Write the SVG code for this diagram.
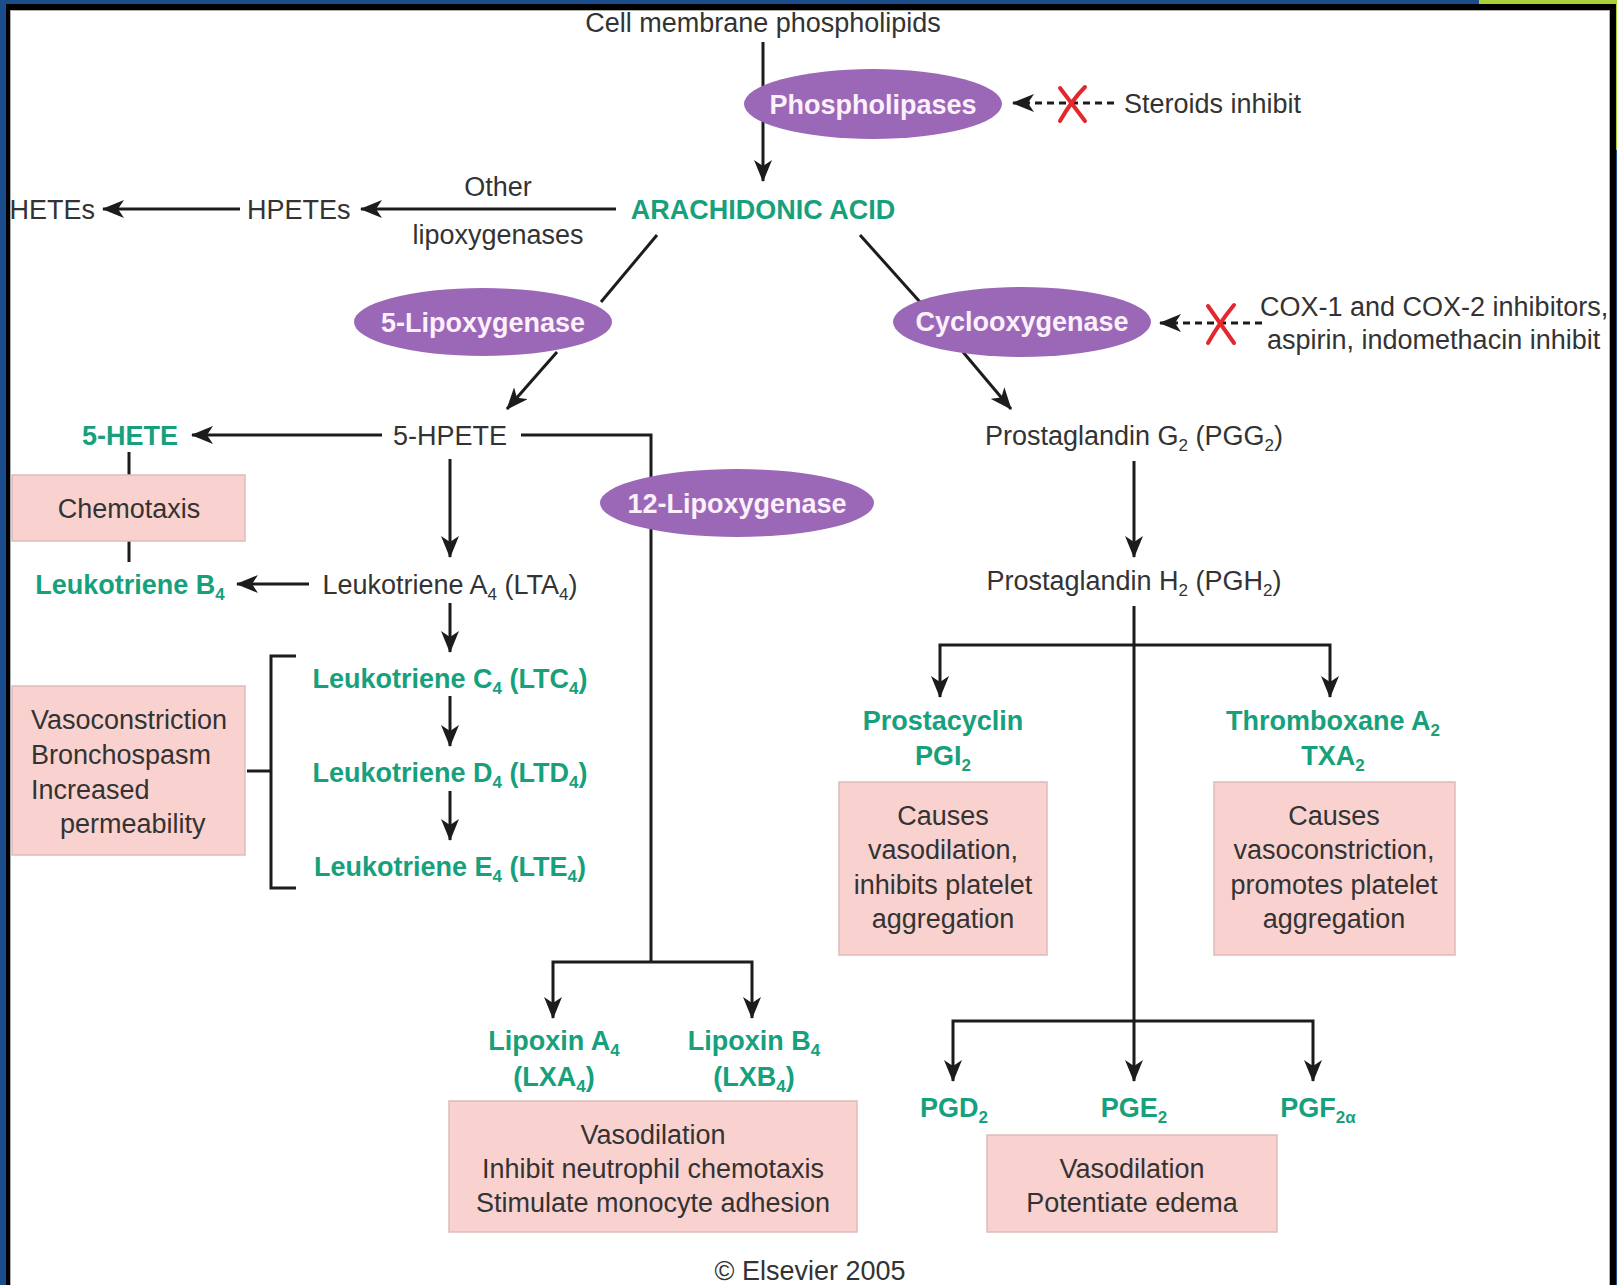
<svg xmlns="http://www.w3.org/2000/svg" width="1617" height="1285" viewBox="0 0 1617 1285">
<style>
.t{font-family:"Liberation Sans",Arial,sans-serif;font-size:27px;fill:#333}
.g{font-weight:bold;fill:#17a07c}
.w{font-weight:bold;fill:#fcf0fb}
.c{text-anchor:middle}
.s{font-size:17px}
.ln{stroke:#1c1c1c;stroke-width:3;fill:none}
.ar{marker-end:url(#ah)}
.dash{stroke-dasharray:7 5}
.box{fill:#f9d1cf;stroke:#dcbcba;stroke-width:1.5}
.ell{fill:#9b68b8}
.x{stroke:#e4262d;stroke-width:4;stroke-linecap:round;fill:none}
</style>
<defs>
<marker id="ah" viewBox="0 0 22 18" refX="21" refY="9" markerWidth="22" markerHeight="18" markerUnits="userSpaceOnUse" orient="auto">
<path d="M0,0 L22,9 L0,18 L6,9 Z" fill="#1c1c1c"/>
</marker>
</defs>
<g id="frame">
<rect x="0" y="0" width="1617" height="1285" fill="#1b4c8c"/>
<rect x="1479" y="0" width="138" height="4" fill="#a9d136"/>
<rect x="1615" y="0" width="2" height="150" fill="#a9d136"/>
<rect x="6" y="4" width="1610" height="1281" fill="#000"/>
<rect x="10.5" y="10.5" width="1599" height="1280" fill="#fff" stroke="#b0b0b0" stroke-width="1"/>
</g>
<g id="connectors">
<path class="ln ar" d="M763,42 V181"/>
<path class="ln dash ar" d="M1114,103 H1013"/>
<path class="x" d="M1060,88 L1085,121 M1085,87 Q1072,100 1060,121"/>
<path class="ln ar" d="M616,209 H361"/>
<path class="ln ar" d="M240,209 H103"/>
<path class="ln" d="M657,235 L601,302"/>
<path class="ln ar" d="M557,352 L507,409"/>
<path class="ln" d="M860,235 L920,302"/>
<path class="ln ar" d="M963,352 L1011,409"/>
<path class="ln dash ar" d="M1262,323 H1160"/>
<path class="x" d="M1208,306 L1234,343 M1234,305 Q1220,322 1208,343"/>
<path class="ln ar" d="M382,435 H192"/>
<path class="ln" d="M129,452 V475 M129,541 V562"/>
<path class="ln ar" d="M450,459 V557"/>
<path class="ln ar" d="M309,584 H237"/>
<path class="ln ar" d="M450,603 V652"/>
<path class="ln ar" d="M450,696 V746"/>
<path class="ln ar" d="M450,791 V840"/>
<path class="ln" d="M296,656 H271 V888 H296 M247,771 H271"/>
<path class="ln" d="M521,435 H651 V962"/>
<path class="ln ar" d="M651,962 H553 V1018"/>
<path class="ln ar" d="M651,962 H752 V1018"/>
<path class="ln ar" d="M1134,461 V557"/>
<path class="ln ar" d="M1134,606 V1081"/>
<path class="ln ar" d="M1134,645 H940 V697"/>
<path class="ln ar" d="M1134,645 H1330 V697"/>
<path class="ln ar" d="M1134,1021 H953 V1081"/>
<path class="ln ar" d="M1134,1021 H1313 V1081"/>
</g>
<g id="cell-membrane"><text class="t c" x="763" y="32">Cell membrane phospholipids</text></g>
<g id="phospholipases"><ellipse class="ell" cx="873" cy="104" rx="129" ry="35"/><text class="t w c" x="873" y="114">Phospholipases</text></g>
<g id="steroids"><text class="t" x="1124" y="113">Steroids inhibit</text></g>
<g id="arachidonic"><text class="t g c" x="763" y="219">ARACHIDONIC ACID</text></g>
<g id="other-lox"><text class="t c" x="498" y="196">Other</text><text class="t c" x="498" y="244">lipoxygenases</text></g>
<g id="hpetes"><text class="t" x="247" y="219">HPETEs</text></g>
<g id="hetes"><text class="t" x="95" y="219" text-anchor="end">HETEs</text></g>
<g id="lox5"><ellipse class="ell" cx="483" cy="322" rx="129" ry="34"/><text class="t w c" x="483" y="332">5-Lipoxygenase</text></g>
<g id="cox"><ellipse class="ell" cx="1022" cy="322" rx="129" ry="35"/><text class="t w c" x="1022" y="331">Cyclooxygenase</text></g>
<g id="cox-inh"><text class="t" x="1260" y="316">COX-1 and COX-2 inhibitors,</text><text class="t" x="1267" y="349">aspirin, indomethacin inhibit</text></g>
<g id="hpete5"><text class="t c" x="450" y="445">5-HPETE</text></g>
<g id="hete5"><text class="t g c" x="130" y="445">5-HETE</text></g>
<g id="chemotaxis"><rect class="box" x="12" y="475" width="233" height="66"/><text class="t c" x="129" y="518">Chemotaxis</text></g>
<g id="ltb4"><text class="t g c" x="130" y="594">Leukotriene B<tspan class="s" dy="6">4</tspan></text></g>
<g id="lta4"><text class="t c" x="450" y="594">Leukotriene A<tspan class="s" dy="6">4</tspan><tspan dy="-6"> (LTA</tspan><tspan class="s" dy="6">4</tspan><tspan dy="-6">)</tspan></text></g>
<g id="ltc4"><text class="t g c" x="450" y="688">Leukotriene C<tspan class="s" dy="6">4</tspan><tspan dy="-6"> (LTC</tspan><tspan class="s" dy="6">4</tspan><tspan dy="-6">)</tspan></text></g>
<g id="ltd4"><text class="t g c" x="450" y="782">Leukotriene D<tspan class="s" dy="6">4</tspan><tspan dy="-6"> (LTD</tspan><tspan class="s" dy="6">4</tspan><tspan dy="-6">)</tspan></text></g>
<g id="lte4"><text class="t g c" x="450" y="876">Leukotriene E<tspan class="s" dy="6">4</tspan><tspan dy="-6"> (LTE</tspan><tspan class="s" dy="6">4</tspan><tspan dy="-6">)</tspan></text></g>
<g id="vaso-box"><rect class="box" x="12" y="686" width="233" height="169"/>
<text class="t" x="31" y="729">Vasoconstriction</text><text class="t" x="31" y="764">Bronchospasm</text><text class="t" x="31" y="799">Increased</text><text class="t" x="60" y="833">permeability</text></g>
<g id="lox12"><ellipse class="ell" cx="737" cy="503" rx="137" ry="34"/><text class="t w c" x="737" y="513">12-Lipoxygenase</text></g>
<g id="lxa4"><text class="t g c" x="554" y="1050">Lipoxin A<tspan class="s" dy="6">4</tspan></text><text class="t g c" x="554" y="1086">(LXA<tspan class="s" dy="6">4</tspan><tspan dy="-6">)</tspan></text></g>
<g id="lxb4"><text class="t g c" x="754" y="1050">Lipoxin B<tspan class="s" dy="6">4</tspan></text><text class="t g c" x="754" y="1086">(LXB<tspan class="s" dy="6">4</tspan><tspan dy="-6">)</tspan></text></g>
<g id="lipoxin-box"><rect class="box" x="449" y="1101" width="408" height="131"/>
<text class="t c" x="653" y="1144">Vasodilation</text><text class="t c" x="653" y="1178">Inhibit neutrophil chemotaxis</text><text class="t c" x="653" y="1212">Stimulate monocyte adhesion</text></g>
<g id="pgg2"><text class="t c" x="1134" y="445">Prostaglandin G<tspan class="s" dy="6">2</tspan><tspan dy="-6"> (PGG</tspan><tspan class="s" dy="6">2</tspan><tspan dy="-6">)</tspan></text></g>
<g id="pgh2"><text class="t c" x="1134" y="590">Prostaglandin H<tspan class="s" dy="6">2</tspan><tspan dy="-6"> (PGH</tspan><tspan class="s" dy="6">2</tspan><tspan dy="-6">)</tspan></text></g>
<g id="pgi2"><text class="t g c" x="943" y="730">Prostacyclin</text><text class="t g c" x="943" y="765">PGI<tspan class="s" dy="6">2</tspan></text>
<rect class="box" x="839" y="782" width="208" height="173"/>
<text class="t c" x="943" y="825">Causes</text><text class="t c" x="943" y="859">vasodilation,</text><text class="t c" x="943" y="894">inhibits platelet</text><text class="t c" x="943" y="928">aggregation</text></g>
<g id="txa2"><text class="t g c" x="1333" y="730">Thromboxane A<tspan class="s" dy="6">2</tspan></text><text class="t g c" x="1333" y="765">TXA<tspan class="s" dy="6">2</tspan></text>
<rect class="box" x="1214" y="782" width="241" height="173"/>
<text class="t c" x="1334" y="825">Causes</text><text class="t c" x="1334" y="859">vasoconstriction,</text><text class="t c" x="1334" y="894">promotes platelet</text><text class="t c" x="1334" y="928">aggregation</text></g>
<g id="pgd2"><text class="t g c" x="954" y="1117">PGD<tspan class="s" dy="6">2</tspan></text></g>
<g id="pge2"><text class="t g c" x="1134" y="1117">PGE<tspan class="s" dy="6">2</tspan></text></g>
<g id="pgf2a"><text class="t g c" x="1318" y="1117">PGF<tspan class="s" dy="6">2α</tspan></text></g>
<g id="pge-box"><rect class="box" x="987" y="1135" width="290" height="97"/>
<text class="t c" x="1132" y="1178">Vasodilation</text><text class="t c" x="1132" y="1212">Potentiate edema</text></g>
<g id="copyright"><text class="t c" x="810" y="1280">© Elsevier 2005</text></g>
</svg>
